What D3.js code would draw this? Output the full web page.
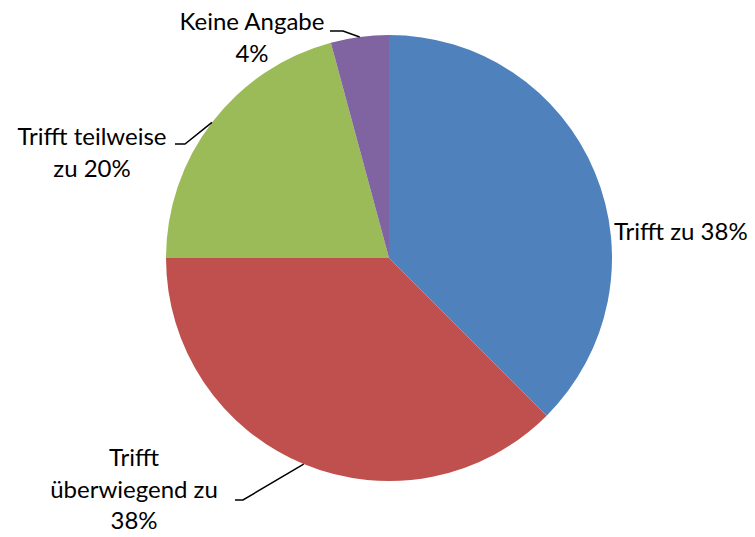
<!DOCTYPE html>
<html>
<head>
<meta charset="utf-8">
<script src="https://cdn.jsdelivr.net/npm/d3@7"></script>
<style>
  body { margin: 0; background: #fff; }
  text { font-family: Lato, "Open Sans", sans-serif; font-size: 24px; fill: #000; }
</style>
</head>
<body>
<div class="canvas"></div>
<script>
// daten
const categories = ['Trifft zu', 'Trifft überwiegend zu', 'Trifft teilweise zu', 'Keine Angabe'];
const values = [37.5, 37.5, 20.8, 4.2];
const labelLines = [
	['Trifft zu 38%'],
	['Trifft', 'überwiegend zu', '38%'],
	['Trifft teilweise', 'zu 20%'],
	['Keine Angabe', '4%']
];
const colours = ['#4F81BD', '#C0504D', '#9BBB59', '#8064A2'];

const width = 755;
const height = 537;
const radius = 223;
const cx = 389, cy = 258;

const svg = d3
	.select('.canvas')
	.append('svg')
	.attr('width', width)
	.attr('height', height);

const graph = svg.append('g')
	.attr('transform', `translate(${cx}, ${cy})`);

const pie = d3.pie().sort(null).value(d => d);
const arc = d3.arc().innerRadius(0).outerRadius(radius);
const edge = d3.arc().innerRadius(radius).outerRadius(radius);

const slices = pie(values);

graph.selectAll('path')
	.data(slices)
	.enter()
	.append('path')
	.attr('d', arc)
	.attr('fill', (d, i) => colours[i]);

// label platzierung (relativ zum mittelpunkt)
const labelPos = [
	{ x: 225, y: -18, anchor: 'start', line: null },
	{ x: -255, y: 208, anchor: 'middle', line: { ex: -146, ey: 242, hx: -154 } },
	{ x: -297, y: -113, anchor: 'middle', line: { ex: -204, ey: -114, hx: -214 } },
	{ x: -137, y: -228, anchor: 'middle', line: { ex: -46, ey: -227, hx: -59 } }
];
const lineH = 31.5;

slices.forEach((s, i) => {
	const p = labelPos[i];
	if (p.line) {
		const [ax, ay] = edge.centroid(s);
		graph.append('polyline')
			.attr('points', `${ax},${ay} ${p.line.ex},${p.line.ey} ${p.line.hx},${p.line.ey}`)
			.attr('fill', 'none')
			.attr('stroke', '#000')
			.attr('stroke-width', 1.5);
	}
	const t = graph.append('text')
		.attr('text-anchor', p.anchor);
	labelLines[i].forEach((l, j) => {
		t.append('tspan')
			.attr('x', p.x)
			.attr('y', p.y + j * lineH)
			.text(l);
	});
});
</script>
</body>
</html>
